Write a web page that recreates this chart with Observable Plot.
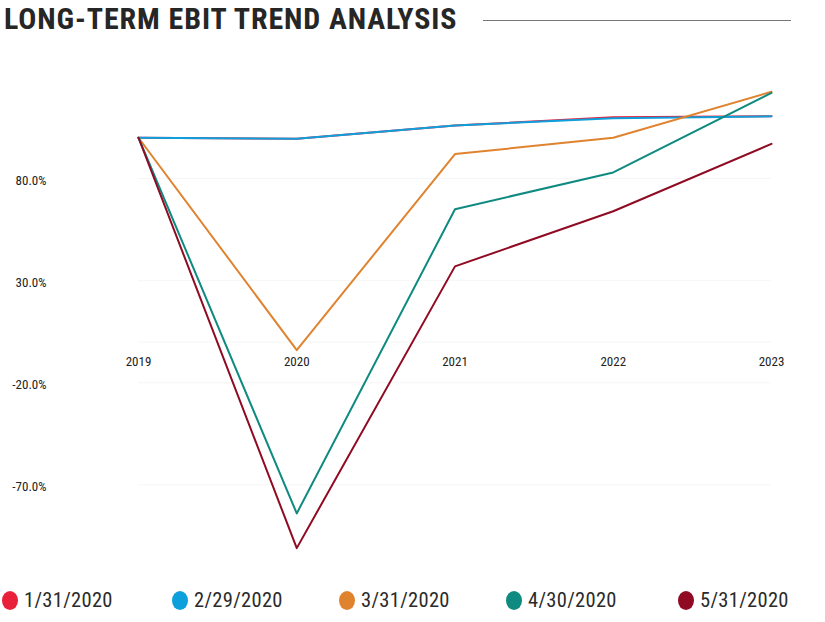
<!DOCTYPE html>
<html>
<head>
<meta charset="utf-8">
<script src="https://cdn.jsdelivr.net/npm/d3@7"></script>
<script src="https://cdn.jsdelivr.net/npm/@observablehq/plot@0.6"></script>
<style>
  body { margin: 0; background: #fff; width: 825px; height: 622px; overflow: hidden; font-family: "Open Sans", "Liberation Sans", sans-serif; }
  #title { position: relative; height: 45px; }
  #title h1 { position: absolute; left: 4px; top: 1px; margin: 0; font-family: "Roboto Condensed", "Liberation Sans Narrow", "Open Sans", sans-serif; font-weight: bold; font-size: 30px; color: #262626; letter-spacing: 0.9px; white-space: nowrap; }
  #title .rule { position: absolute; left: 483px; top: 20px; width: 308px; height: 0; border-top: 1.5px solid #777; }
  #legend { position: absolute; top: 588px; left: 0; width: 825px; height: 26px; }
  .item { position: absolute; top: 0; display: flex; align-items: center; font-family: "Roboto Condensed", "Liberation Sans Narrow", "Open Sans", sans-serif; font-size: 20.5px; color: #2a2a2a; letter-spacing: 0.3px; }
  .dot { width: 16px; height: 19px; border-radius: 50%; margin-right: 6px; }
  #chart { position: absolute; top: 43px; left: 0; }
</style>
</head>
<body>
<div id="title"><h1>LONG-TERM EBIT TREND ANALYSIS</h1><div class="rule"></div></div>
<div id="chart"></div>
<div id="legend"></div>
<script>
const years = [2019, 2020, 2021, 2022, 2023];
const seriesNames = ["1/31/2020", "2/29/2020", "3/31/2020", "4/30/2020", "5/31/2020"];
const colors = ["#e8203a", "#0ea0dc", "#e0832f", "#0e8a80", "#8f0a22"];
const s1 = [100, 99.5, 106, 110, 110.5];
const s2 = [100, 99.5, 106, 109.5, 110.5];
const s3 = [100, -4, 92, 100, 122.5];
const s4 = [100, -84, 65, 83, 122];
const s5 = [100, -101, 37, 64, 97];
const yTicks = [80, 30, -20, -70];
const legendX = [2, 172, 339, 506, 678];

const allSeries = [s1, s2, s3, s4, s5];
const rows = [];
allSeries.forEach((vals, i) => vals.forEach((v, j) => rows.push({series: seriesNames[i], year: years[j], value: v})));

const chart = Plot.plot({
  width: 825,
  height: 532,
  marginLeft: 138,
  marginRight: 54,
  marginTop: 33,
  marginBottom: 9,
  x: { domain: [2019, 2023], axis: null },
  y: { domain: [-110, 130], axis: null },
  color: { domain: seriesNames, range: colors },
  style: { fontFamily: "'Roboto Condensed', 'Open Sans', sans-serif" },
  marks: [
    Plot.ruleY([0, ...yTicks], { stroke: "#f6f6f6", strokeWidth: 1 }),
    Plot.axisY({ ticks: yTicks, label: null, tickSize: 0, tickPadding: 92, dy: 2, tickFormat: d => d.toFixed(1) + "%", fontSize: 13, fontWeight: 400, fill: "#222" }),
    Plot.text(years, { x: d => d, y: 0, text: d => String(d), dy: 20, fontSize: 13, fontWeight: 400, fill: "#222" }),
    Plot.line(rows, { x: "year", y: "value", z: "series", stroke: "series", strokeWidth: 2 })
  ]
});
document.getElementById("chart").appendChild(chart);

const legend = document.getElementById("legend");
seriesNames.forEach((name, i) => {
  const item = document.createElement("div");
  item.className = "item";
  item.style.left = legendX[i] + "px";
  const dot = document.createElement("span");
  dot.className = "dot";
  dot.style.background = colors[i];
  const label = document.createElement("span");
  label.textContent = name;
  item.appendChild(dot);
  item.appendChild(label);
  legend.appendChild(item);
});
</script>
</body>
</html>
